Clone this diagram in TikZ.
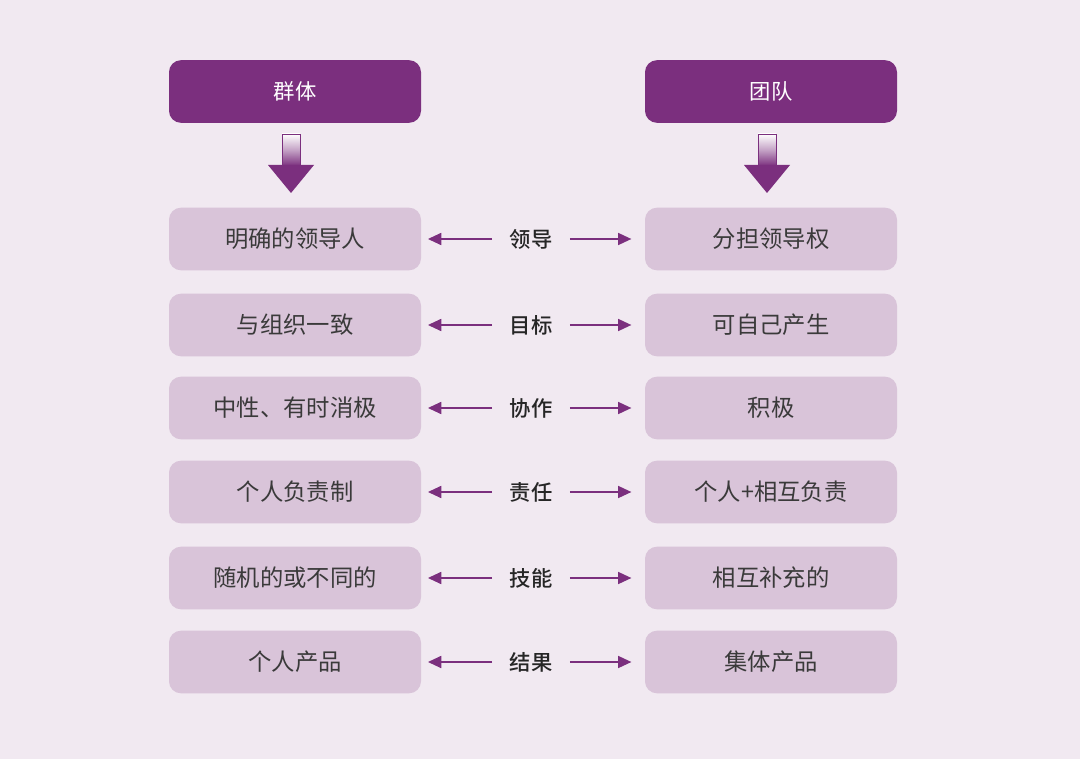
\documentclass[tikz,border=0pt]{standalone}
\usepackage{fontspec}
\newfontfamily\cjk{Noto Sans CJK SC}
\newfontfamily\cjkb{Noto Sans CJK SC Medium}
\usetikzlibrary{arrows.meta}
\definecolor{bg}{HTML}{F1E9F1}
\definecolor{hd}{HTML}{7B2F7E}
\definecolor{bx}{HTML}{D9C4D9}
\definecolor{tx}{HTML}{3A3A3A}
\begin{document}
\begin{tikzpicture}[x=0.75pt,y=-0.75pt,
 head/.style={fill=hd,rounded corners=9pt,minimum width=189pt,minimum height=47pt,inner sep=0pt,font=\cjk\fontsize{16}{16}\selectfont,text=white},
 box/.style={fill=bx,rounded corners=9pt,minimum width=189pt,minimum height=47pt,inner sep=0pt,font=\cjk\fontsize{17.5}{17.5}\selectfont,text=tx},
 lab/.style={font=\cjkb\fontsize{16}{16}\selectfont,text=black!85,inner sep=0pt,minimum width=58pt},
 arr/.style={hd,line width=1.3pt,-{Triangle[length=10pt,width=9pt]}}]
\fill[bg] (0,0) rectangle (1080,759);
\node[head] (g) at (295,91.5) {群体};
\node[head] (t) at (771,91.5) {团队};
\foreach \y/\l/\m/\r [count=\i] in {239/明确的领导人/领导/分担领导权,325/与组织一致/目标/可自己产生,408/中性、有时消极/协作/积极,492/个人负责制/责任/个人+相互负责,578/随机的或不同的/技能/相互补充的,662/个人产品/结果/集体产品}{
 \node[box] (l\i) at (295,\y) {\l};
 \node[box] (r\i) at (771,\y) {\r};
 \node[lab] (m\i) at (531,\y) {\m};
 \draw[arr,shorten >=5pt] (m\i) -- (l\i);
 \draw[arr,shorten >=10pt] (m\i) -- (r\i);
}
\foreach \c in {291,767}{
 \shade[top color=white,bottom color=hd,middle color=hd!45,draw=hd,line width=0.6pt] (\c-9,134) rectangle (\c+9,166);
 \fill[hd] (\c-23,165) -- (\c+23,165) -- (\c,193) -- cycle;
}
\end{tikzpicture}
\end{document}
